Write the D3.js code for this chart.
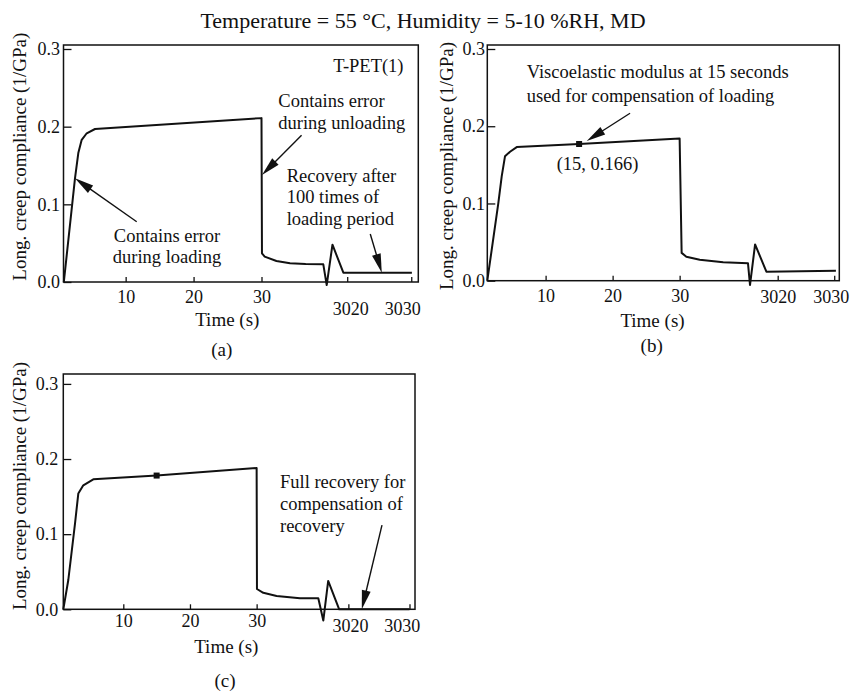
<!DOCTYPE html>
<html><head><meta charset="utf-8">
<script src="https://cdn.jsdelivr.net/npm/d3@7"></script>
<style>
body{margin:0;background:#fff;}
text{font-family:"Liberation Serif","Times New Roman",serif;fill:#111;}
</style>
</head><body>
<svg id="chart" width="852" height="691"></svg>
<script>
// ---------------- data ----------------
const titleText = "Temperature = 55 °C, Humidity = 5-10 %RH, MD";
const xTickValues = [10, 20, 30, 3020, 3030];
const yTickValues = [0, 0.1, 0.2, 0.3];
const xAxisTitle = "Time (s)";
const yAxisTitle = "Long. creep compliance (1/GPa)";

// (a) raw data (zig-zag near 40 s / 3017 s is the axis-break symbol drawn in the line)
const timeA = [0.9, 2.54, 3.03, 3.53, 4.27, 5.49, 30, 30.07, 30.47, 32.2, 34.2, 36.5, 39.1, 39.6, 3017.7, 3019.4, 3030.1];
const complianceA = [0, 0.1335, 0.166, 0.183, 0.1915, 0.197, 0.211, 0.037, 0.0326, 0.027, 0.024, 0.0232, 0.0228, -0.004, 0.048, 0.012, 0.012];

// (b) compensated for loading
const timeB = [1.3, 2.94, 3.45, 3.94, 4.69, 5.69, 15, 30, 30.3, 31, 33, 36.5, 40.2, 40.5, 3016.0, 3018.0, 3030.3];
const complianceB = [0, 0.100, 0.135, 0.161, 0.167, 0.173, 0.177, 0.184, 0.036, 0.031, 0.027, 0.024, 0.0225, -0.0056, 0.047, 0.0117, 0.013];
const markerB = {time: 15, compliance: 0.177};

// (c) compensated for loading and recovery
const timeC = [1.0, 1.75, 2.76, 3.25, 4.0, 5.5, 15, 30, 30.05, 31, 33, 36.5, 39.25, 40.0, 3016.7, 3018.5, 3030];
const complianceC = [0, 0.039, 0.1145, 0.154, 0.165, 0.173, 0.178, 0.188, 0.027, 0.022, 0.0177, 0.0146, 0.0146, -0.015, 0.0377, 0, 0];
const markerC = {time: 15, compliance: 0.178};

// ---------------- layout ----------------
const svg = d3.select("#chart");
svg.append("text").attr("x", 423).attr("y", 28).attr("text-anchor", "middle")
  .style("font-size", "22px").text(titleText);

const panels = [
  { id: "a", times: timeA, values: complianceA, marker: null,
    frame: {l: 63.5, r: 418.3, t: 45, b: 282}, yRange: [282, 49],
    xDomain: [0.85, 39.6, 3016.8, 3031.1], xRange: [63.5, 326.7, 326.7, 418.3],
    yPad: 3.5, seg2LabelDy: 33, seg1LabelDy: 20.7, seg2Dx: {3020: 3, 3030: -9},
    yTitle: {x: 26, y: 156.7}, xTitle: {x: 227.3, y: 326}, tag: {x: 221.7, y: 356, t: "(a)"},
    notes: [
      {x: 333.3, y: 71.7, anchor: "start", lines: ["T-PET(1)"]},
      {x: 167, y: 241.7, anchor: "middle", lines: ["Contains error", "during loading"]},
      {x: 278.3, y: 107.3, anchor: "start", lines: ["Contains error", "during unloading"]},
      {x: 286.7, y: 181.7, anchor: "start", lines: ["Recovery after", "100 times of", "loading period"]}
    ],
    arrows: [
      {from: [11.63, 0.0776], to: [2.54, 0.1335]},
      {from: [35.9, 0.189], to: [30.07, 0.1378]},
      {from: [3023.6, 0.0618], to: [3025.4, 0.012]}
    ]},
  { id: "b", times: timeB, values: complianceB, marker: markerB,
    frame: {l: 487.3, r: 839.3, t: 45, b: 280.7}, yRange: [280.7, 49],
    xDomain: [1.3, 40.5, 3015.1, 3030.9], xRange: [487.3, 750, 750, 839.3],
    yPad: 2.3, seg2LabelDy: 22.6, seg1LabelDy: 21, seg2Dx: {3020: 0, 3030: -3.5},
    yTitle: {x: 453, y: 166}, xTitle: {x: 652.5, y: 326.7}, tag: {x: 651.7, y: 351.7, t: "(b)"},
    notes: [
      {x: 526.7, y: 78.3, anchor: "start", lines: ["Viscoelastic modulus at 15 seconds", "used for compensation of loading"], gap: 23.4},
      {x: 597.5, y: 170, anchor: "middle", lines: ["(15, 0.166)"]}
    ],
    arrows: [
      {from: [22.6, 0.2168], to: [16.14, 0.181]}
    ]},
  { id: "c", times: timeC, values: complianceC, marker: markerC,
    frame: {l: 63.3, r: 415, t: 374, b: 609.3}, yRange: [609.3, 383.9],
    xDomain: [1.0, 40.0, 3015.9, 3030.9], xRange: [63.3, 323.3, 323.3, 415],
    yPad: 5, seg2LabelDy: 23, seg1LabelDy: 18, seg2Dx: {3020: 1.7, 3030: -7.7},
    yTitle: {x: 25.5, y: 486}, xTitle: {x: 226.3, y: 653.3}, tag: {x: 225, y: 686.7, t: "(c)"},
    notes: [
      {x: 280, y: 488.3, anchor: "start", lines: ["Full recovery for", "compensation of", "recovery"]}
    ],
    arrows: [
      {from: [3025.5, 0.112], to: [3022.2, 0]}
    ]}
];

panels.forEach(p => {
  const g = svg.append("g");
  const x = d3.scaleLinear().domain(p.xDomain).range(p.xRange);
  const y = d3.scaleLinear().domain([0, 0.3]).range(p.yRange);
  const f = p.frame;

  // axes (ticks inward)
  const xa = g.append("g").attr("transform", `translate(0,${f.b})`)
    .call(d3.axisBottom(x).tickValues(xTickValues).tickSizeInner(-5).tickSizeOuter(0).tickFormat(d3.format("d")));
  xa.select(".domain").remove();
  xa.selectAll("line").attr("stroke", "#111").attr("stroke-width", 1.3);
  xa.selectAll("text").attr("fill", "#111").style("font-size", "18px")
    .attr("dy", null)
    .attr("y", d => d > 1000 ? p.seg2LabelDy : p.seg1LabelDy)
    .attr("dx", d => d > 1000 ? p.seg2Dx[d] : 0);

  const ya = g.append("g").attr("transform", `translate(${f.l},0)`)
    .call(d3.axisLeft(y).tickValues(yTickValues).tickSizeInner(-8).tickSizeOuter(0)
      .tickPadding(p.yPad).tickFormat(d3.format(".1f")));
  ya.select(".domain").remove();
  ya.selectAll("line").attr("stroke", "#111").attr("stroke-width", 1.3);
  ya.selectAll("text").attr("fill", "#111").style("font-size", "18px");

  // frame
  g.append("rect").attr("x", f.l).attr("y", f.t).attr("width", f.r - f.l).attr("height", f.b - f.t)
    .attr("fill", "none").attr("stroke", "#111").attr("stroke-width", 1.5);

  // curve
  const pts = p.times.map((t, i) => [t, p.values[i]]);
  g.append("path").datum(pts)
    .attr("d", d3.line().x(d => x(d[0])).y(d => y(d[1])))
    .attr("fill", "none").attr("stroke", "#111").attr("stroke-width", 2).attr("stroke-linejoin", "round");

  if (p.marker) {
    g.append("rect").attr("x", x(p.marker.time) - 3).attr("y", y(p.marker.compliance) - 3)
      .attr("width", 6).attr("height", 6).attr("fill", "#111");
  }

  // arrows
  p.arrows.forEach(a => {
    const x0 = x(a.from[0]), y0 = y(a.from[1]), x1 = x(a.to[0]), y1 = y(a.to[1]);
    const dx = x1 - x0, dy = y1 - y0, L = Math.hypot(dx, dy), ux = dx / L, uy = dy / L;
    const hl = 19, hw = 4.5;
    const bx = x1 - ux * hl, by = y1 - uy * hl;
    g.append("line").attr("x1", x0).attr("y1", y0).attr("x2", bx + ux * 2).attr("y2", by + uy * 2)
      .attr("stroke", "#111").attr("stroke-width", 1.4);
    g.append("path").attr("d", `M${x1},${y1}L${bx - uy * hw},${by + ux * hw}L${bx + uy * hw},${by - ux * hw}Z`)
      .attr("fill", "#111");
  });

  // notes
  p.notes.forEach(n => {
    const gap = n.gap || 21.7;
    n.lines.forEach((line, i) => {
      g.append("text").attr("x", n.x).attr("y", n.y + i * gap).attr("text-anchor", n.anchor)
        .style("font-size", "18.5px").text(line);
    });
  });

  // axis titles
  g.append("text").attr("transform", `translate(${p.yTitle.x},${p.yTitle.y}) rotate(-90)`)
    .attr("text-anchor", "middle").style("font-size", "19px").text(yAxisTitle);
  g.append("text").attr("x", p.xTitle.x).attr("y", p.xTitle.y).attr("text-anchor", "middle")
    .style("font-size", "19px").text(xAxisTitle);
  g.append("text").attr("x", p.tag.x).attr("y", p.tag.y).attr("text-anchor", "middle")
    .style("font-size", "19px").text(p.tag.t);
});
</script>
</body></html>
